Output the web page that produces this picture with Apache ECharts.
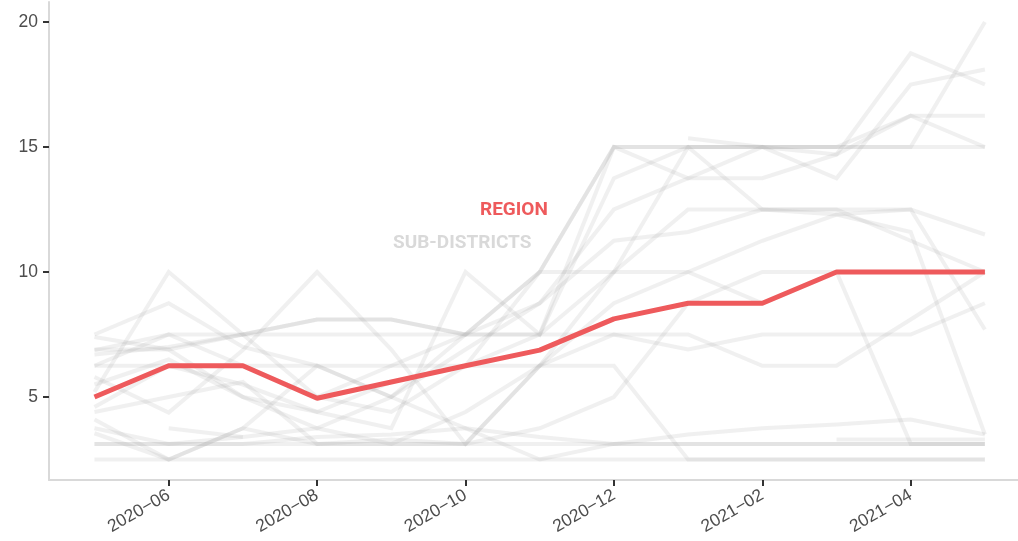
<!DOCTYPE html>
<html>
<head>
<meta charset="utf-8">
<script src="https://cdn.jsdelivr.net/npm/echarts@6/dist/echarts.min.js"></script>
<style>
html,body{margin:0;padding:0;background:#fff;}
#chart{width:1018px;height:541px;}
</style>
</head>
<body>
<div id="chart"></div>
<script>
// Months (x categories, index 0..12)
const months = ['2020−05','2020−06','2020−07','2020−08','2020−09','2020−10','2020−11','2020−12','2021−01','2021−02','2021−03','2021−04','2021−05'];
const tickMonths = [1, 3, 5, 7, 9, 11];
const yTicks = [5, 10, 15, 20];

// Region (red)
const region = [5, 6.25, 6.25, 4.95, 5.6, 6.25, 6.875, 8.125, 8.75, 8.75, 10, 10, 10];

// Sub-districts (grey)
const subA = [5.2, 10, 7.5, 5.0, 4.4, 6.25, 10, 15, 15, 15, 15, 15, 20];
const subB = [7.5, 8.75, 7.0, 6.25, 5.0, 6.9, 8.75, 12.5, 13.75, 13.75, 14.7, 18.75, 17.5];
const subC = [6.7, 7.0, 7.5, 8.1, 8.1, 7.5, 7.5, 13.75, 15, 12.5, 12.5, 11.25, 10];
const subD = [null, null, null, null, null, null, null, null, 15.35, 15, 14.7, 16.25, 15];
const subE = [4.6, 6.25, 5.5, 4.4, 3.75, 10, 7.5, 15, 13.75, 15, 13.75, 17.5, 18.1];
const subF = [6.875, 7.5, 7.5, 7.5, 7.5, 7.5, 7.5, 10, 15, 15, 15, 16.25, 16.25];
const subG = [6.25, 7.5, 6.25, 5.0, 6.25, 7.5, 10, 15, 15, 15, 15, 15, 15];
const subH = [5.8, 4.375, 6.875, 10, 6.9, 3.125, 6.25, 10, 12.5, 12.5, 12.5, 12.5, 11.5];
const subI = [3.75, 3.125, 3.4, 3.75, 5.0, 7.5, 8.75, 11.25, 11.6, 12.5, 12.3, 12.5, 7.7];
const subJ = [6.25, 6.25, 6.25, 6.25, 6.25, 6.25, 6.25, 6.25, 2.5, 2.5, 2.5, 2.5, 2.5];
const subK = [4.4, 5.0, 5.6, 3.125, 3.125, 4.4, 6.25, 7.5, 7.5, 6.25, 6.25, 8.1, 10];
const subL = [5.5, 6.5, 5.0, 4.4, 5.6, 6.25, 7.5, 7.5, 6.9, 7.5, 7.5, 7.5, 8.75];
const subM = [3.55, 2.5, 3.75, 3.125, 3.3, 3.125, 6.25, 8.75, 10, 11.25, 12.3, 11.6, 3.5];
const subN = [7.4, 6.9, 5.0, 3.75, 3.125, 3.125, 3.75, 5.0, 8.75, 10, 10, 3.125, 3.125];
const subO = [null, null, null, null, null, null, null, null, null, null, 3.3, 3.3, 3.3];
const subP = [3.125, 3.125, 3.125, 3.4, 3.5, 3.75, 3.4, 3.125, 3.5, 3.75, 3.9, 4.1, 3.5];
const subQ = [null, 3.75, 3.4, null, null, null, null, null, null, null, null, null, null];
const subR = [4.1, 2.5, 3.75, 6.25, 5.0, 3.75, 2.5, 3.125, 3.125, 3.125, 3.125, 3.125, 3.125];
const subS = [6.9, 6.9, 7.5, 8.1, 8.1, 7.5, 10, 10, 10, 8.75, 10, 10, 10];
const subT = [2.5, 2.5, 2.5, 2.5, 2.5, 2.5, 2.5, 2.5, 2.5, 2.5, 2.5, 2.5, 2.5];
const subU = [3.125, 3.125, 3.125, 3.125, 3.125, 3.125, 3.125, 3.125, 3.125, 3.125, 3.125, 3.125, 3.125];

const subDistricts = [subA, subB, subC, subD, subE, subF, subG, subH, subI, subJ, subK, subL, subM, subN, subO, subP, subQ, subR, subS, subT, subU];

function toPairs(arr) {
  const out = [];
  arr.forEach((v, i) => { if (v !== null) out.push([i, v]); });
  return out;
}

const series = subDistricts.map((arr) => ({
  type: 'line',
  data: toPairs(arr),
  symbol: 'none',
  silent: true,
  lineStyle: { color: '#a5a5a5', width: 4, opacity: 0.17, cap: 'butt', join: 'miter' },
  z: 2
}));
series.push({
  type: 'line',
  name: 'REGION',
  data: toPairs(region),
  symbol: 'none',
  silent: true,
  lineStyle: { color: '#ee5a5c', width: 5, cap: 'butt' },
  z: 5
});

const chart = echarts.init(document.getElementById('chart'), null, { renderer: 'canvas' });
chart.setOption({
  animation: false,
  backgroundColor: '#ffffff',
  grid: { left: 49, right: 0, top: 2, bottom: 61, containLabel: false },
  xAxis: {
    type: 'value',
    min: -0.613,
    max: 12.446,
    splitLine: { show: false },
    axisLine: { show: true, onZero: false, lineStyle: { color: '#d9d9d9', width: 2 } },
    axisTick: { show: true, customValues: tickMonths, length: 6, lineStyle: { color: '#333333', width: 2 } },
    axisLabel: {
      customValues: tickMonths,
      formatter: (v) => months[Math.round(v)],
      rotate: 30,
      margin: 14,
      color: '#4d4d4d',
      fontSize: 17.5,
      fontFamily: 'Liberation Sans, Arial, sans-serif'
    }
  },
  yAxis: {
    type: 'value',
    min: 1.68,
    max: 20.8,
    splitLine: { show: false },
    axisLine: { show: true, onZero: false, lineStyle: { color: '#d9d9d9', width: 2 } },
    axisTick: { show: true, customValues: yTicks, length: 6, lineStyle: { color: '#333333', width: 2 } },
    axisLabel: {
      customValues: yTicks,
      margin: 11,
      color: '#4d4d4d',
      fontSize: 17.5,
      fontFamily: 'Liberation Sans, Arial, sans-serif'
    }
  },
  graphic: [
    {
      type: 'text', left: 480, top: 201,
      style: { text: 'REGION', fill: '#ee5a5c', font: 'bold 19px "Liberation Sans Narrow", "Roboto", sans-serif' }
    },
    {
      type: 'text', left: 393, top: 234,
      style: { text: 'SUB-DISTRICTS', fill: '#d9d9d9', font: 'bold 19px "Liberation Sans Narrow", "Roboto", sans-serif' }
    }
  ],
  series: series
});
</script>
</body>
</html>
